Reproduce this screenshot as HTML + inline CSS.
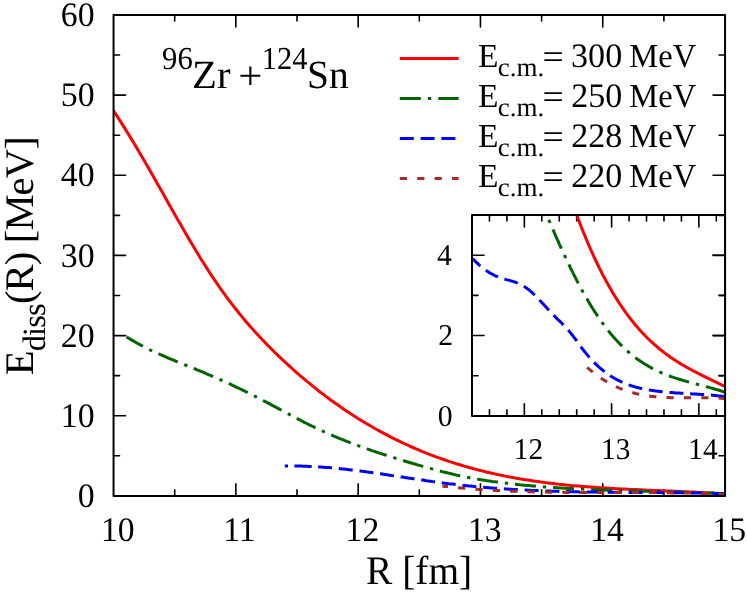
<!DOCTYPE html>
<html><head><meta charset="utf-8"><title>E_diss(R)</title>
<style>
html,body{margin:0;padding:0;background:#fff;}
svg{display:block;font-family:"Liberation Serif",serif;will-change:transform;}
text{fill:#000;text-rendering:geometricPrecision;}
</style></head><body>
<svg width="747" height="592" viewBox="0 0 747 592">
<defs>
<clipPath id="cm"><rect x="113.55" y="14.95" width="611.5" height="480.95"/></clipPath>
<clipPath id="ci"><rect x="472.0" y="215.0" width="253.04999999999995" height="200.89999999999998"/></clipPath>
</defs>
<g stroke="#000" stroke-width="1.6" fill="none" stroke-linecap="round">
<path d="M174.70,495.9 v-6.0 M174.70,14.95 v6.0"/>
<path d="M235.85,495.9 v-12.0 M235.85,14.95 v12.0"/>
<path d="M297.00,495.9 v-6.0 M297.00,14.95 v6.0"/>
<path d="M358.15,495.9 v-12.0 M358.15,14.95 v12.0"/>
<path d="M419.30,495.9 v-6.0 M419.30,14.95 v6.0"/>
<path d="M480.45,495.9 v-12.0 M480.45,14.95 v12.0"/>
<path d="M541.60,495.9 v-6.0 M541.60,14.95 v6.0"/>
<path d="M602.75,495.9 v-12.0 M602.75,14.95 v12.0"/>
<path d="M663.90,495.9 v-6.0 M663.90,14.95 v6.0"/>
<path d="M113.55,455.82 h6.0 M725.05,455.82 h-6.0"/>
<path d="M113.55,415.74 h12.0 M725.05,415.74 h-12.0"/>
<path d="M113.55,375.66 h6.0 M725.05,375.66 h-6.0"/>
<path d="M113.55,335.58 h12.0 M725.05,335.58 h-12.0"/>
<path d="M113.55,295.50 h6.0 M725.05,295.50 h-6.0"/>
<path d="M113.55,255.42 h12.0 M725.05,255.42 h-12.0"/>
<path d="M113.55,215.35 h6.0 M725.05,215.35 h-6.0"/>
<path d="M113.55,175.27 h12.0 M725.05,175.27 h-12.0"/>
<path d="M113.55,135.19 h6.0 M725.05,135.19 h-6.0"/>
<path d="M113.55,95.11 h12.0 M725.05,95.11 h-12.0"/>
<path d="M113.55,55.03 h6.0 M725.05,55.03 h-6.0"/>
</g>
<g>
<path d="M113.5,110.9 L116.1,114.7 L118.7,118.6 L121.2,122.6 L123.8,126.6 L126.3,130.7 L128.9,134.9 L131.5,139.1 L134.0,143.3 L136.6,147.6 L139.1,151.9 L141.7,156.3 L144.3,160.7 L146.8,165.1 L149.4,169.6 L151.9,174.1 L154.5,178.6 L157.0,183.1 L159.6,187.6 L162.2,192.1 L164.7,196.6 L167.3,201.2 L169.8,205.7 L172.4,210.2 L175.0,214.7 L177.5,219.2 L180.1,223.6 L182.6,228.1 L185.2,232.5 L187.7,236.9 L190.3,241.2 L192.9,245.5 L195.4,249.8 L198.0,254.0 L200.5,258.2 L203.1,262.3 L205.7,266.4 L208.2,270.4 L210.8,274.3 L213.3,278.1 L215.9,281.9 L218.5,285.7 L221.0,289.3 L223.6,292.9 L226.1,296.4 L228.7,299.8 L231.2,303.2 L233.8,306.5 L236.4,309.8 L238.9,313.0 L241.5,316.1 L244.0,319.2 L246.6,322.2 L249.2,325.2 L251.7,328.1 L254.3,330.9 L256.8,333.8 L259.4,336.5 L261.9,339.3 L264.5,341.9 L267.1,344.6 L269.6,347.2 L272.2,349.7 L274.7,352.3 L277.3,354.8 L279.9,357.2 L282.4,359.6 L285.0,362.0 L287.5,364.4 L290.1,366.7 L292.7,369.0 L295.2,371.3 L297.8,373.5 L300.3,375.8 L302.9,377.9 L305.4,380.1 L308.0,382.2 L310.6,384.3 L313.1,386.4 L315.7,388.4 L318.2,390.5 L320.8,392.5 L323.4,394.4 L325.9,396.4 L328.5,398.3 L331.0,400.2 L333.6,402.0 L336.1,403.8 L338.7,405.6 L341.3,407.4 L343.8,409.2 L346.4,410.9 L348.9,412.6 L351.5,414.3 L354.1,415.9 L356.6,417.6 L359.2,419.2 L361.7,420.7 L364.3,422.3 L366.8,423.8 L369.4,425.3 L372.0,426.8 L374.5,428.3 L377.1,429.7 L379.6,431.1 L382.2,432.5 L384.8,433.9 L387.3,435.2 L389.9,436.6 L392.4,437.9 L395.0,439.1 L397.6,440.4 L400.1,441.6 L402.7,442.9 L405.2,444.0 L407.8,445.2 L410.3,446.4 L412.9,447.5 L415.5,448.6 L418.0,449.7 L420.6,450.8 L423.1,451.8 L425.7,452.9 L428.3,453.9 L430.8,454.9 L433.4,455.8 L435.9,456.8 L438.5,457.7 L441.0,458.6 L443.6,459.5 L446.2,460.4 L448.7,461.3 L451.3,462.1 L453.8,462.9 L456.4,463.8 L459.0,464.5 L461.5,465.3 L464.1,466.1 L466.6,466.8 L469.2,467.5 L471.8,468.2 L474.3,468.9 L476.9,469.6 L479.4,470.3 L482.0,470.9 L484.5,471.5 L487.1,472.2 L489.7,472.8 L492.2,473.3 L494.8,473.9 L497.3,474.5 L499.9,475.0 L502.5,475.5 L505.0,476.1 L507.6,476.6 L510.1,477.1 L512.7,477.5 L515.2,478.0 L517.8,478.4 L520.4,478.9 L522.9,479.3 L525.5,479.7 L528.0,480.1 L530.6,480.5 L533.2,480.9 L535.7,481.3 L538.3,481.6 L540.8,482.0 L543.4,482.3 L545.9,482.7 L548.5,483.0 L551.1,483.3 L553.6,483.6 L556.2,483.9 L558.7,484.2 L561.3,484.4 L563.9,484.7 L566.4,485.0 L569.0,485.2 L571.5,485.5 L574.1,485.7 L576.7,485.9 L579.2,486.1 L581.8,486.4 L584.3,486.6 L586.9,486.8 L589.4,487.0 L592.0,487.1 L594.6,487.3 L597.1,487.5 L599.7,487.7 L602.2,487.8 L604.8,488.0 L607.4,488.1 L609.9,488.3 L612.5,488.4 L615.0,488.6 L617.6,488.7 L620.1,488.9 L622.7,489.0 L625.3,489.1 L627.8,489.2 L630.4,489.4 L632.9,489.5 L635.5,489.6 L638.1,489.7 L640.6,489.8 L643.2,489.9 L645.7,490.1 L648.3,490.2 L650.9,490.3 L653.4,490.4 L656.0,490.5 L658.5,490.6 L661.1,490.7 L663.6,490.8 L666.2,490.9 L668.8,491.0 L671.3,491.1 L673.9,491.2 L676.4,491.3 L679.0,491.4 L681.6,491.6 L684.1,491.7 L686.7,491.8 L689.2,491.9 L691.8,492.0 L694.3,492.1 L696.9,492.3 L699.5,492.4 L702.0,492.5 L704.6,492.7 L707.1,492.8 L709.7,493.0 L712.3,493.1 L714.8,493.3 L717.4,493.4 L719.9,493.6 L722.5,493.7 L725.0,493.9" stroke="#ff0000" stroke-width="3.0" fill="none" clip-path="url(#cm)"/>
<path d="M126.5,336.8 L129.0,338.4 L131.5,339.9 L134.0,341.4 L136.5,342.8 L139.0,344.2 L141.5,345.5 L144.0,346.8 L146.5,348.1 L149.0,349.4 L151.5,350.6 L154.0,351.8 L156.6,352.9 L159.1,354.0 L161.6,355.2 L164.1,356.2 L166.6,357.3 L169.1,358.4 L171.6,359.4 L174.1,360.4 L176.6,361.5 L179.1,362.5 L181.6,363.5 L184.1,364.5 L186.6,365.5 L189.1,366.5 L191.6,367.5 L194.1,368.5 L196.6,369.6 L199.1,370.6 L201.6,371.6 L204.1,372.7 L206.6,373.8 L209.1,374.8 L211.6,375.9 L214.2,377.0 L216.7,378.1 L219.2,379.2 L221.7,380.3 L224.2,381.5 L226.7,382.6 L229.2,383.7 L231.7,384.9 L234.2,386.1 L236.7,387.3 L239.2,388.5 L241.7,389.7 L244.2,390.9 L246.7,392.1 L249.2,393.4 L251.7,394.6 L254.2,395.9 L256.7,397.2 L259.2,398.5 L261.7,399.8 L264.2,401.1 L266.7,402.4 L269.3,403.7 L271.8,405.1 L274.3,406.4 L276.8,407.7 L279.3,409.1 L281.8,410.4 L284.3,411.8 L286.8,413.1 L289.3,414.4 L291.8,415.8 L294.3,417.1 L296.8,418.4 L299.3,419.7 L301.8,421.0 L304.3,422.3 L306.8,423.5 L309.3,424.8 L311.8,426.0 L314.3,427.2 L316.8,428.4 L319.3,429.6 L321.8,430.7 L324.3,431.9 L326.9,433.0 L329.4,434.1 L331.9,435.2 L334.4,436.3 L336.9,437.3 L339.4,438.4 L341.9,439.4 L344.4,440.4 L346.9,441.4 L349.4,442.3 L351.9,443.3 L354.4,444.3 L356.9,445.2 L359.4,446.1 L361.9,447.0 L364.4,447.9 L366.9,448.8 L369.4,449.7 L371.9,450.6 L374.4,451.4 L376.9,452.3 L379.4,453.1 L381.9,453.9 L384.5,454.7 L387.0,455.5 L389.5,456.3 L392.0,457.1 L394.5,457.9 L397.0,458.7 L399.5,459.5 L402.0,460.2 L404.5,461.0 L407.0,461.7 L409.5,462.5 L412.0,463.2 L414.5,463.9 L417.0,464.7 L419.5,465.4 L422.0,466.1 L424.5,466.8 L427.0,467.5 L429.5,468.2 L432.0,468.9 L434.5,469.6 L437.0,470.3 L439.5,470.9 L442.1,471.6 L444.6,472.2 L447.1,472.8 L449.6,473.4 L452.1,474.0 L454.6,474.6 L457.1,475.2 L459.6,475.7 L462.1,476.2 L464.6,476.7 L467.1,477.2 L469.6,477.7 L472.1,478.2 L474.6,478.6 L477.1,479.1 L479.6,479.5 L482.1,479.9 L484.6,480.3 L487.1,480.7 L489.6,481.0 L492.1,481.4 L494.6,481.7 L497.2,482.1 L499.7,482.4 L502.2,482.7 L504.7,483.0 L507.2,483.3 L509.7,483.6 L512.2,483.9 L514.7,484.2 L517.2,484.4 L519.7,484.7 L522.2,484.9 L524.7,485.2 L527.2,485.4 L529.7,485.6 L532.2,485.9 L534.7,486.1 L537.2,486.3 L539.7,486.5 L542.2,486.7 L544.7,486.9 L547.2,487.1 L549.7,487.2 L552.2,487.4 L554.8,487.6 L557.3,487.8 L559.8,487.9 L562.3,488.1 L564.8,488.2 L567.3,488.4 L569.8,488.5 L572.3,488.6 L574.8,488.8 L577.3,488.9 L579.8,489.0 L582.3,489.1 L584.8,489.3 L587.3,489.4 L589.8,489.5 L592.3,489.6 L594.8,489.7 L597.3,489.8 L599.8,489.9 L602.3,490.0 L604.8,490.1 L607.3,490.2 L609.8,490.2 L612.4,490.3 L614.9,490.4 L617.4,490.5 L619.9,490.6 L622.4,490.6 L624.9,490.7 L627.4,490.8 L629.9,490.8 L632.4,490.9 L634.9,491.0 L637.4,491.0 L639.9,491.1 L642.4,491.2 L644.9,491.2 L647.4,491.3 L649.9,491.4 L652.4,491.4 L654.9,491.5 L657.4,491.5 L659.9,491.6 L662.4,491.7 L664.9,491.7 L667.4,491.8 L670.0,491.9 L672.5,491.9 L675.0,492.0 L677.5,492.0 L680.0,492.1 L682.5,492.2 L685.0,492.2 L687.5,492.3 L690.0,492.4 L692.5,492.5 L695.0,492.5 L697.5,492.6 L700.0,492.7 L702.5,492.8 L705.0,492.9 L707.5,493.0 L710.0,493.0 L712.5,493.1 L715.0,493.2 L717.5,493.3 L720.0,493.4 L722.5,493.5 L725.0,493.6" stroke="#006400" stroke-width="3.0" fill="none" stroke-dasharray="21 7 3.3 6.9" stroke-dashoffset="2" clip-path="url(#cm)"/>
<path d="M284.8,466.1 L286.6,466.0 L288.5,466.0 L290.3,466.0 L292.2,466.0 L294.0,466.0 L295.9,466.0 L297.7,466.0 L299.5,466.1 L301.4,466.1 L303.2,466.2 L305.1,466.2 L306.9,466.3 L308.7,466.4 L310.6,466.4 L312.4,466.5 L314.3,466.6 L316.1,466.7 L318.0,466.8 L319.8,467.0 L321.6,467.1 L323.5,467.2 L325.3,467.4 L327.2,467.5 L329.0,467.6 L330.9,467.8 L332.7,468.0 L334.5,468.1 L336.4,468.3 L338.2,468.5 L340.1,468.7 L341.9,468.9 L343.7,469.1 L345.6,469.3 L347.4,469.5 L349.3,469.7 L351.1,469.9 L353.0,470.1 L354.8,470.4 L356.6,470.6 L358.5,470.8 L360.3,471.0 L362.2,471.3 L364.0,471.5 L365.9,471.8 L367.7,472.0 L369.5,472.3 L371.4,472.5 L373.2,472.8 L375.1,473.0 L376.9,473.3 L378.7,473.6 L380.6,473.8 L382.4,474.1 L384.3,474.4 L386.1,474.6 L388.0,474.9 L389.8,475.2 L391.6,475.5 L393.5,475.7 L395.3,476.0 L397.2,476.3 L399.0,476.6 L400.8,476.9 L402.7,477.1 L404.5,477.4 L406.4,477.7 L408.2,478.0 L410.1,478.2 L411.9,478.5 L413.7,478.8 L415.6,479.1 L417.4,479.3 L419.3,479.6 L421.1,479.9 L423.0,480.1 L424.8,480.4 L426.6,480.7 L428.5,480.9 L430.3,481.2 L432.2,481.5 L434.0,481.7 L435.8,482.0 L437.7,482.2 L439.5,482.5 L441.4,482.7 L443.2,483.0 L445.1,483.2 L446.9,483.4 L448.7,483.7 L450.6,483.9 L452.4,484.1 L454.3,484.3 L456.1,484.5 L458.0,484.8 L459.8,485.0 L461.6,485.2 L463.5,485.4 L465.3,485.6 L467.2,485.7 L469.0,485.9 L470.8,486.1 L472.7,486.3 L474.5,486.5 L476.4,486.7 L478.2,486.8 L480.1,487.0 L481.9,487.1 L483.7,487.3 L485.6,487.5 L487.4,487.6 L489.3,487.8 L491.1,487.9 L493.0,488.1 L494.8,488.2 L496.6,488.3 L498.5,488.5 L500.3,488.6 L502.2,488.7 L504.0,488.8 L505.8,489.0 L507.7,489.1 L509.5,489.2 L511.4,489.3 L513.2,489.4 L515.1,489.5 L516.9,489.6 L518.7,489.7 L520.6,489.8 L522.4,489.9 L524.3,490.0 L526.1,490.1 L528.0,490.2 L529.8,490.3 L531.6,490.4 L533.5,490.5 L535.3,490.5 L537.2,490.6 L539.0,490.7 L540.8,490.8 L542.7,490.8 L544.5,490.9 L546.4,491.0 L548.2,491.0 L550.1,491.1 L551.9,491.2 L553.7,491.2 L555.6,491.3 L557.4,491.3 L559.3,491.4 L561.1,491.4 L562.9,491.5 L564.8,491.5 L566.6,491.6 L568.5,491.6 L570.3,491.7 L572.2,491.7 L574.0,491.7 L575.8,491.8 L577.7,491.8 L579.5,491.9 L581.4,491.9 L583.2,491.9 L585.1,492.0 L586.9,492.0 L588.7,492.0 L590.6,492.0 L592.4,492.1 L594.3,492.1 L596.1,492.1 L597.9,492.1 L599.8,492.2 L601.6,492.2 L603.5,492.2 L605.3,492.2 L607.2,492.2 L609.0,492.3 L610.8,492.3 L612.7,492.3 L614.5,492.3 L616.4,492.3 L618.2,492.3 L620.1,492.4 L621.9,492.4 L623.7,492.4 L625.6,492.4 L627.4,492.4 L629.3,492.4 L631.1,492.4 L632.9,492.5 L634.8,492.5 L636.6,492.5 L638.5,492.5 L640.3,492.5 L642.2,492.5 L644.0,492.5 L645.8,492.5 L647.7,492.6 L649.5,492.6 L651.4,492.6 L653.2,492.6 L655.1,492.6 L656.9,492.6 L658.7,492.6 L660.6,492.6 L662.4,492.7 L664.3,492.7 L666.1,492.7 L667.9,492.7 L669.8,492.7 L671.6,492.7 L673.5,492.8 L675.3,492.8 L677.2,492.8 L679.0,492.8 L680.8,492.8 L682.7,492.8 L684.5,492.9 L686.4,492.9 L688.2,492.9 L690.1,492.9 L691.9,493.0 L693.7,493.0 L695.6,493.0 L697.4,493.0 L699.3,493.1 L701.1,493.1 L702.9,493.1 L704.8,493.2 L706.6,493.2 L708.5,493.2 L710.3,493.3 L712.2,493.3 L714.0,493.4 L715.8,493.4 L717.7,493.4 L719.5,493.5 L721.4,493.5 L723.2,493.6 L725.0,493.6" stroke="#0000ff" stroke-width="3.0" fill="none" stroke-dasharray="3.2 6.4 17.3 6.4 14 6.8 14 6.8 14 6.8 14 6.8 14 6.8 14 6.8 14 6.8 14 6.8 14 6.8 14 6.8 14 6.8 14 6.8 14 6.8 14 6.8 14 6.8 14 6.8 14 6.8 14 6.8 14 6.8 14 6.8 14 6.8 14 6.8 14 6.8 14 6.8 14 6.8 14 6.8 14 6.8 14 6.8 14 6.8 14 6.8 " stroke-dashoffset="0" clip-path="url(#cm)"/>
<path d="M442.4,486.1 L443.6,486.2 L444.8,486.4 L445.9,486.5 L447.1,486.6 L448.3,486.7 L449.5,486.9 L450.7,487.0 L451.9,487.1 L453.0,487.2 L454.2,487.4 L455.4,487.5 L456.6,487.6 L457.8,487.7 L459.0,487.8 L460.1,487.9 L461.3,488.0 L462.5,488.1 L463.7,488.2 L464.9,488.3 L466.1,488.4 L467.2,488.5 L468.4,488.6 L469.6,488.7 L470.8,488.8 L472.0,488.9 L473.1,489.0 L474.3,489.1 L475.5,489.2 L476.7,489.3 L477.9,489.3 L479.1,489.4 L480.2,489.5 L481.4,489.6 L482.6,489.7 L483.8,489.7 L485.0,489.8 L486.2,489.9 L487.3,490.0 L488.5,490.0 L489.7,490.1 L490.9,490.2 L492.1,490.3 L493.3,490.3 L494.4,490.4 L495.6,490.4 L496.8,490.5 L498.0,490.6 L499.2,490.6 L500.3,490.7 L501.5,490.7 L502.7,490.8 L503.9,490.9 L505.1,490.9 L506.3,491.0 L507.4,491.0 L508.6,491.1 L509.8,491.1 L511.0,491.2 L512.2,491.2 L513.4,491.3 L514.5,491.3 L515.7,491.3 L516.9,491.4 L518.1,491.4 L519.3,491.5 L520.5,491.5 L521.6,491.5 L522.8,491.6 L524.0,491.6 L525.2,491.6 L526.4,491.7 L527.5,491.7 L528.7,491.7 L529.9,491.8 L531.1,491.8 L532.3,491.8 L533.5,491.9 L534.6,491.9 L535.8,491.9 L537.0,491.9 L538.2,492.0 L539.4,492.0 L540.6,492.0 L541.7,492.0 L542.9,492.1 L544.1,492.1 L545.3,492.1 L546.5,492.1 L547.7,492.1 L548.8,492.2 L550.0,492.2 L551.2,492.2 L552.4,492.2 L553.6,492.2 L554.8,492.2 L555.9,492.3 L557.1,492.3 L558.3,492.3 L559.5,492.3 L560.7,492.3 L561.8,492.3 L563.0,492.3 L564.2,492.3 L565.4,492.4 L566.6,492.4 L567.8,492.4 L568.9,492.4 L570.1,492.4 L571.3,492.4 L572.5,492.4 L573.7,492.4 L574.9,492.4 L576.0,492.4 L577.2,492.4 L578.4,492.4 L579.6,492.4 L580.8,492.4 L582.0,492.4 L583.1,492.4 L584.3,492.4 L585.5,492.5 L586.7,492.5 L587.9,492.5 L589.0,492.5 L590.2,492.5 L591.4,492.5 L592.6,492.5 L593.8,492.5 L595.0,492.5 L596.1,492.5 L597.3,492.5 L598.5,492.5 L599.7,492.5 L600.9,492.5 L602.1,492.5 L603.2,492.5 L604.4,492.5 L605.6,492.5 L606.8,492.5 L608.0,492.5 L609.2,492.5 L610.3,492.5 L611.5,492.5 L612.7,492.5 L613.9,492.5 L615.1,492.5 L616.2,492.5 L617.4,492.5 L618.6,492.5 L619.8,492.5 L621.0,492.5 L622.2,492.5 L623.3,492.5 L624.5,492.5 L625.7,492.5 L626.9,492.5 L628.1,492.5 L629.3,492.5 L630.4,492.5 L631.6,492.5 L632.8,492.5 L634.0,492.5 L635.2,492.5 L636.4,492.5 L637.5,492.5 L638.7,492.5 L639.9,492.5 L641.1,492.5 L642.3,492.5 L643.4,492.5 L644.6,492.5 L645.8,492.5 L647.0,492.5 L648.2,492.5 L649.4,492.5 L650.5,492.5 L651.7,492.5 L652.9,492.5 L654.1,492.5 L655.3,492.5 L656.5,492.6 L657.6,492.6 L658.8,492.6 L660.0,492.6 L661.2,492.6 L662.4,492.6 L663.6,492.6 L664.7,492.6 L665.9,492.6 L667.1,492.7 L668.3,492.7 L669.5,492.7 L670.6,492.7 L671.8,492.7 L673.0,492.7 L674.2,492.7 L675.4,492.8 L676.6,492.8 L677.7,492.8 L678.9,492.8 L680.1,492.8 L681.3,492.9 L682.5,492.9 L683.7,492.9 L684.8,492.9 L686.0,493.0 L687.2,493.0 L688.4,493.0 L689.6,493.0 L690.8,493.1 L691.9,493.1 L693.1,493.1 L694.3,493.2 L695.5,493.2 L696.7,493.2 L697.8,493.3 L699.0,493.3 L700.2,493.3 L701.4,493.4 L702.6,493.4 L703.8,493.4 L704.9,493.5 L706.1,493.5 L707.3,493.6 L708.5,493.6 L709.7,493.7 L710.9,493.7 L712.0,493.7 L713.2,493.8 L714.4,493.8 L715.6,493.9 L716.8,493.9 L718.0,494.0 L719.1,494.0 L720.3,494.1 L721.5,494.2 L722.7,494.2 L723.9,494.3 L725.0,494.3" stroke="#a52a2a" stroke-width="3.0" fill="none" stroke-dasharray="7.2 10.2" stroke-dashoffset="1.6" clip-path="url(#cm)"/>
</g>
<rect x="113.55" y="14.95" width="611.5" height="480.95" fill="none" stroke="#000" stroke-width="2.0" stroke-linejoin="round"/>
<g stroke="#000" stroke-width="1.6" fill="none" stroke-linecap="round">
<path d="M489.45,415.9 v-6.0 M489.45,215.0 v6.0"/>
<path d="M506.90,415.9 v-6.0 M506.90,215.0 v6.0"/>
<path d="M524.36,415.9 v-12.0 M524.36,215.0 v12.0"/>
<path d="M541.81,415.9 v-6.0 M541.81,215.0 v6.0"/>
<path d="M559.26,415.9 v-6.0 M559.26,215.0 v6.0"/>
<path d="M576.71,415.9 v-6.0 M576.71,215.0 v6.0"/>
<path d="M594.16,415.9 v-6.0 M594.16,215.0 v6.0"/>
<path d="M611.61,415.9 v-12.0 M611.61,215.0 v12.0"/>
<path d="M629.07,415.9 v-6.0 M629.07,215.0 v6.0"/>
<path d="M646.52,415.9 v-6.0 M646.52,215.0 v6.0"/>
<path d="M663.97,415.9 v-6.0 M663.97,215.0 v6.0"/>
<path d="M681.42,415.9 v-6.0 M681.42,215.0 v6.0"/>
<path d="M698.87,415.9 v-12.0 M698.87,215.0 v12.0"/>
<path d="M716.32,415.9 v-6.0 M716.32,215.0 v6.0"/>
<path d="M472.0,375.72 h6.0 M725.05,375.72 h-6.0"/>
<path d="M472.0,335.54 h12.0 M725.05,335.54 h-12.0"/>
<path d="M472.0,295.36 h6.0 M725.05,295.36 h-6.0"/>
<path d="M472.0,255.18 h12.0 M725.05,255.18 h-12.0"/>
</g>
<g>
<path d="M577.0,215.7 L577.6,217.3 L578.2,219.0 L578.9,220.6 L579.5,222.2 L580.1,223.8 L580.7,225.4 L581.3,227.0 L582.0,228.6 L582.6,230.1 L583.2,231.7 L583.8,233.2 L584.4,234.7 L585.1,236.2 L585.7,237.7 L586.3,239.2 L586.9,240.7 L587.5,242.2 L588.2,243.6 L588.8,245.1 L589.4,246.5 L590.0,247.9 L590.6,249.3 L591.2,250.7 L591.9,252.1 L592.5,253.5 L593.1,254.8 L593.7,256.2 L594.3,257.5 L595.0,258.8 L595.6,260.2 L596.2,261.5 L596.8,262.8 L597.4,264.1 L598.1,265.3 L598.7,266.6 L599.3,267.8 L599.9,269.1 L600.5,270.3 L601.2,271.5 L601.8,272.8 L602.4,274.0 L603.0,275.2 L603.6,276.3 L604.3,277.5 L604.9,278.7 L605.5,279.8 L606.1,281.0 L606.7,282.1 L607.4,283.2 L608.0,284.3 L608.6,285.4 L609.2,286.5 L609.8,287.6 L610.5,288.7 L611.1,289.8 L611.7,290.8 L612.3,291.9 L612.9,292.9 L613.5,293.9 L614.2,295.0 L614.8,296.0 L615.4,297.0 L616.0,298.0 L616.6,299.0 L617.3,299.9 L617.9,300.9 L618.5,301.9 L619.1,302.8 L619.7,303.8 L620.4,304.7 L621.0,305.6 L621.6,306.5 L622.2,307.4 L622.8,308.3 L623.5,309.2 L624.1,310.1 L624.7,311.0 L625.3,311.9 L625.9,312.7 L626.6,313.6 L627.2,314.4 L627.8,315.2 L628.4,316.1 L629.0,316.9 L629.7,317.7 L630.3,318.5 L630.9,319.3 L631.5,320.1 L632.1,320.9 L632.8,321.6 L633.4,322.4 L634.0,323.2 L634.6,323.9 L635.2,324.7 L635.8,325.4 L636.5,326.1 L637.1,326.9 L637.7,327.6 L638.3,328.3 L638.9,329.0 L639.6,329.7 L640.2,330.4 L640.8,331.1 L641.4,331.7 L642.0,332.4 L642.7,333.1 L643.3,333.7 L643.9,334.4 L644.5,335.0 L645.1,335.7 L645.8,336.3 L646.4,336.9 L647.0,337.6 L647.6,338.2 L648.2,338.8 L648.9,339.4 L649.5,340.0 L650.1,340.6 L650.7,341.2 L651.3,341.7 L652.0,342.3 L652.6,342.9 L653.2,343.4 L653.8,344.0 L654.4,344.5 L655.1,345.1 L655.7,345.6 L656.3,346.2 L656.9,346.7 L657.5,347.2 L658.1,347.8 L658.8,348.3 L659.4,348.8 L660.0,349.3 L660.6,349.8 L661.2,350.3 L661.9,350.8 L662.5,351.3 L663.1,351.7 L663.7,352.2 L664.3,352.7 L665.0,353.2 L665.6,353.6 L666.2,354.1 L666.8,354.5 L667.4,355.0 L668.1,355.4 L668.7,355.9 L669.3,356.3 L669.9,356.8 L670.5,357.2 L671.2,357.6 L671.8,358.0 L672.4,358.5 L673.0,358.9 L673.6,359.3 L674.3,359.7 L674.9,360.1 L675.5,360.5 L676.1,360.9 L676.7,361.3 L677.4,361.7 L678.0,362.1 L678.6,362.5 L679.2,362.9 L679.8,363.2 L680.4,363.6 L681.1,364.0 L681.7,364.4 L682.3,364.7 L682.9,365.1 L683.5,365.5 L684.2,365.8 L684.8,366.2 L685.4,366.5 L686.0,366.9 L686.6,367.2 L687.3,367.6 L687.9,367.9 L688.5,368.3 L689.1,368.6 L689.7,368.9 L690.4,369.3 L691.0,369.6 L691.6,369.9 L692.2,370.3 L692.8,370.6 L693.5,370.9 L694.1,371.3 L694.7,371.6 L695.3,371.9 L695.9,372.2 L696.6,372.5 L697.2,372.9 L697.8,373.2 L698.4,373.5 L699.0,373.8 L699.7,374.1 L700.3,374.4 L700.9,374.7 L701.5,375.0 L702.1,375.3 L702.7,375.7 L703.4,376.0 L704.0,376.3 L704.6,376.6 L705.2,376.9 L705.8,377.2 L706.5,377.5 L707.1,377.8 L707.7,378.1 L708.3,378.4 L708.9,378.7 L709.6,379.0 L710.2,379.3 L710.8,379.6 L711.4,379.9 L712.0,380.2 L712.7,380.5 L713.3,380.8 L713.9,381.1 L714.5,381.4 L715.1,381.7 L715.8,382.0 L716.4,382.3 L717.0,382.6 L717.6,382.9 L718.2,383.2 L718.9,383.5 L719.5,383.8 L720.1,384.1 L720.7,384.4 L721.3,384.7 L722.0,385.0 L722.6,385.3 L723.2,385.6 L723.8,385.9 L724.4,386.2 L725.0,386.5" stroke="#ff0000" stroke-width="3.0" fill="none" clip-path="url(#ci)"/>
<path d="M546.4,214.3 L547.1,216.0 L547.9,217.8 L548.6,219.6 L549.4,221.3 L550.1,223.1 L550.9,224.8 L551.6,226.6 L552.4,228.3 L553.1,230.0 L553.9,231.7 L554.6,233.4 L555.4,235.2 L556.1,236.8 L556.9,238.5 L557.6,240.2 L558.4,241.9 L559.1,243.6 L559.9,245.2 L560.6,246.9 L561.3,248.5 L562.1,250.1 L562.8,251.8 L563.6,253.4 L564.3,255.0 L565.1,256.6 L565.8,258.2 L566.6,259.8 L567.3,261.4 L568.1,262.9 L568.8,264.5 L569.6,266.0 L570.3,267.6 L571.1,269.1 L571.8,270.6 L572.6,272.1 L573.3,273.6 L574.1,275.1 L574.8,276.6 L575.6,278.0 L576.3,279.5 L577.0,280.9 L577.8,282.3 L578.5,283.8 L579.3,285.2 L580.0,286.6 L580.8,287.9 L581.5,289.3 L582.3,290.7 L583.0,292.0 L583.8,293.4 L584.5,294.7 L585.3,296.0 L586.0,297.3 L586.8,298.6 L587.5,299.9 L588.3,301.2 L589.0,302.4 L589.8,303.7 L590.5,304.9 L591.2,306.1 L592.0,307.3 L592.7,308.5 L593.5,309.7 L594.2,310.9 L595.0,312.0 L595.7,313.2 L596.5,314.3 L597.2,315.5 L598.0,316.6 L598.7,317.7 L599.5,318.8 L600.2,319.8 L601.0,320.9 L601.7,322.0 L602.5,323.0 L603.2,324.0 L604.0,325.1 L604.7,326.1 L605.5,327.1 L606.2,328.0 L606.9,329.0 L607.7,330.0 L608.4,330.9 L609.2,331.8 L609.9,332.8 L610.7,333.7 L611.4,334.6 L612.2,335.5 L612.9,336.3 L613.7,337.2 L614.4,338.0 L615.2,338.9 L615.9,339.7 L616.7,340.5 L617.4,341.3 L618.2,342.1 L618.9,342.9 L619.7,343.7 L620.4,344.4 L621.1,345.2 L621.9,345.9 L622.6,346.7 L623.4,347.4 L624.1,348.1 L624.9,348.8 L625.6,349.5 L626.4,350.2 L627.1,350.8 L627.9,351.5 L628.6,352.1 L629.4,352.8 L630.1,353.4 L630.9,354.0 L631.6,354.6 L632.4,355.2 L633.1,355.8 L633.9,356.4 L634.6,357.0 L635.4,357.6 L636.1,358.1 L636.8,358.7 L637.6,359.2 L638.3,359.8 L639.1,360.3 L639.8,360.8 L640.6,361.3 L641.3,361.8 L642.1,362.3 L642.8,362.8 L643.6,363.3 L644.3,363.8 L645.1,364.2 L645.8,364.7 L646.6,365.1 L647.3,365.6 L648.1,366.0 L648.8,366.4 L649.6,366.9 L650.3,367.3 L651.0,367.7 L651.8,368.1 L652.5,368.5 L653.3,368.9 L654.0,369.2 L654.8,369.6 L655.5,370.0 L656.3,370.4 L657.0,370.7 L657.8,371.1 L658.5,371.4 L659.3,371.8 L660.0,372.1 L660.8,372.4 L661.5,372.8 L662.3,373.1 L663.0,373.4 L663.8,373.7 L664.5,374.0 L665.3,374.3 L666.0,374.6 L666.7,374.9 L667.5,375.2 L668.2,375.5 L669.0,375.8 L669.7,376.0 L670.5,376.3 L671.2,376.6 L672.0,376.9 L672.7,377.1 L673.5,377.4 L674.2,377.6 L675.0,377.9 L675.7,378.1 L676.5,378.4 L677.2,378.6 L678.0,378.8 L678.7,379.1 L679.5,379.3 L680.2,379.5 L680.9,379.8 L681.7,380.0 L682.4,380.2 L683.2,380.4 L683.9,380.7 L684.7,380.9 L685.4,381.1 L686.2,381.3 L686.9,381.5 L687.7,381.7 L688.4,381.9 L689.2,382.1 L689.9,382.3 L690.7,382.5 L691.4,382.7 L692.2,382.9 L692.9,383.1 L693.7,383.3 L694.4,383.5 L695.2,383.7 L695.9,383.9 L696.6,384.1 L697.4,384.3 L698.1,384.5 L698.9,384.7 L699.6,384.9 L700.4,385.1 L701.1,385.3 L701.9,385.5 L702.6,385.7 L703.4,385.9 L704.1,386.1 L704.9,386.3 L705.6,386.5 L706.4,386.7 L707.1,386.9 L707.9,387.1 L708.6,387.3 L709.4,387.5 L710.1,387.7 L710.8,387.9 L711.6,388.1 L712.3,388.3 L713.1,388.5 L713.8,388.7 L714.6,389.0 L715.3,389.2 L716.1,389.4 L716.8,389.6 L717.6,389.8 L718.3,390.1 L719.1,390.3 L719.8,390.5 L720.6,390.8 L721.3,391.0 L722.1,391.2 L722.8,391.5 L723.6,391.7 L724.3,392.0 L725.0,392.2" stroke="#006400" stroke-width="3.0" fill="none" stroke-dasharray="3.5 7 21 7" stroke-dashoffset="-6" clip-path="url(#ci)"/>
<path d="M472.5,258.4 L473.6,259.6 L474.6,260.6 L475.7,261.7 L476.7,262.7 L477.8,263.7 L478.8,264.7 L479.9,265.6 L481.0,266.5 L482.0,267.4 L483.1,268.2 L484.1,269.0 L485.2,269.8 L486.2,270.5 L487.3,271.2 L488.4,271.9 L489.4,272.6 L490.5,273.2 L491.5,273.8 L492.6,274.4 L493.6,274.9 L494.7,275.5 L495.7,276.0 L496.8,276.4 L497.9,276.9 L498.9,277.3 L500.0,277.6 L501.0,278.0 L502.1,278.3 L503.1,278.7 L504.2,279.0 L505.3,279.3 L506.3,279.6 L507.4,279.9 L508.4,280.1 L509.5,280.4 L510.5,280.7 L511.6,281.0 L512.7,281.3 L513.7,281.7 L514.8,282.0 L515.8,282.4 L516.9,282.8 L517.9,283.2 L519.0,283.7 L520.1,284.1 L521.1,284.7 L522.2,285.2 L523.2,285.8 L524.3,286.5 L525.3,287.2 L526.4,287.9 L527.4,288.7 L528.5,289.5 L529.6,290.4 L530.6,291.3 L531.7,292.2 L532.7,293.2 L533.8,294.2 L534.8,295.2 L535.9,296.3 L537.0,297.4 L538.0,298.5 L539.1,299.6 L540.1,300.7 L541.2,301.8 L542.2,303.0 L543.3,304.1 L544.4,305.3 L545.4,306.4 L546.5,307.6 L547.5,308.8 L548.6,309.9 L549.6,311.0 L550.7,312.2 L551.8,313.3 L552.8,314.4 L553.9,315.5 L554.9,316.5 L556.0,317.6 L557.0,318.6 L558.1,319.7 L559.1,320.7 L560.2,321.7 L561.3,322.8 L562.3,323.8 L563.4,324.9 L564.4,326.0 L565.5,327.1 L566.5,328.3 L567.6,329.4 L568.7,330.6 L569.7,331.9 L570.8,333.2 L571.8,334.5 L572.9,335.8 L573.9,337.2 L575.0,338.6 L576.1,340.0 L577.1,341.5 L578.2,342.9 L579.2,344.4 L580.3,345.9 L581.3,347.3 L582.4,348.8 L583.5,350.1 L584.5,351.5 L585.6,352.8 L586.6,354.1 L587.7,355.4 L588.7,356.6 L589.8,357.8 L590.8,359.0 L591.9,360.1 L593.0,361.3 L594.0,362.3 L595.1,363.4 L596.1,364.4 L597.2,365.4 L598.2,366.4 L599.3,367.4 L600.4,368.3 L601.4,369.2 L602.5,370.0 L603.5,370.9 L604.6,371.7 L605.6,372.5 L606.7,373.3 L607.8,374.0 L608.8,374.8 L609.9,375.5 L610.9,376.2 L612.0,376.8 L613.0,377.5 L614.1,378.1 L615.2,378.7 L616.2,379.3 L617.3,379.9 L618.3,380.4 L619.4,380.9 L620.4,381.4 L621.5,381.9 L622.6,382.4 L623.6,382.9 L624.7,383.3 L625.7,383.7 L626.8,384.1 L627.8,384.5 L628.9,384.9 L629.9,385.3 L631.0,385.6 L632.1,386.0 L633.1,386.3 L634.2,386.6 L635.2,386.9 L636.3,387.2 L637.3,387.5 L638.4,387.7 L639.5,388.0 L640.5,388.2 L641.6,388.5 L642.6,388.7 L643.7,388.9 L644.7,389.1 L645.8,389.3 L646.9,389.5 L647.9,389.7 L649.0,389.9 L650.0,390.1 L651.1,390.3 L652.1,390.4 L653.2,390.6 L654.3,390.7 L655.3,390.9 L656.4,391.0 L657.4,391.2 L658.5,391.3 L659.5,391.4 L660.6,391.5 L661.6,391.7 L662.7,391.8 L663.8,391.9 L664.8,392.0 L665.9,392.1 L666.9,392.2 L668.0,392.3 L669.0,392.4 L670.1,392.5 L671.2,392.5 L672.2,392.6 L673.3,392.7 L674.3,392.8 L675.4,392.9 L676.4,392.9 L677.5,393.0 L678.6,393.1 L679.6,393.1 L680.7,393.2 L681.7,393.3 L682.8,393.3 L683.8,393.4 L684.9,393.4 L686.0,393.5 L687.0,393.6 L688.1,393.6 L689.1,393.7 L690.2,393.7 L691.2,393.8 L692.3,393.9 L693.3,393.9 L694.4,394.0 L695.5,394.0 L696.5,394.1 L697.6,394.2 L698.6,394.2 L699.7,394.3 L700.7,394.4 L701.8,394.4 L702.9,394.5 L703.9,394.6 L705.0,394.6 L706.0,394.7 L707.1,394.8 L708.1,394.9 L709.2,395.0 L710.3,395.1 L711.3,395.1 L712.4,395.2 L713.4,395.3 L714.5,395.4 L715.5,395.5 L716.6,395.7 L717.7,395.8 L718.7,395.9 L719.8,396.0 L720.8,396.1 L721.9,396.3 L722.9,396.4 L724.0,396.5 L725.0,396.7" stroke="#0000ff" stroke-width="3.0" fill="none" stroke-dasharray="14 6.8" stroke-dashoffset="3" clip-path="url(#ci)"/>
<path d="M587.1,367.2 L587.7,367.8 L588.3,368.3 L588.8,368.8 L589.4,369.3 L590.0,369.8 L590.6,370.3 L591.1,370.7 L591.7,371.2 L592.3,371.7 L592.9,372.2 L593.4,372.6 L594.0,373.1 L594.6,373.5 L595.2,374.0 L595.8,374.4 L596.3,374.8 L596.9,375.3 L597.5,375.7 L598.1,376.1 L598.6,376.5 L599.2,376.9 L599.8,377.3 L600.4,377.7 L601.0,378.1 L601.5,378.5 L602.1,378.9 L602.7,379.3 L603.3,379.6 L603.8,380.0 L604.4,380.4 L605.0,380.7 L605.6,381.1 L606.1,381.4 L606.7,381.7 L607.3,382.1 L607.9,382.4 L608.5,382.7 L609.0,383.1 L609.6,383.4 L610.2,383.7 L610.8,384.0 L611.3,384.3 L611.9,384.6 L612.5,384.9 L613.1,385.2 L613.7,385.5 L614.2,385.8 L614.8,386.1 L615.4,386.3 L616.0,386.6 L616.5,386.9 L617.1,387.1 L617.7,387.4 L618.3,387.6 L618.8,387.9 L619.4,388.1 L620.0,388.4 L620.6,388.6 L621.2,388.8 L621.7,389.1 L622.3,389.3 L622.9,389.5 L623.5,389.7 L624.0,390.0 L624.6,390.2 L625.2,390.4 L625.8,390.6 L626.3,390.8 L626.9,391.0 L627.5,391.2 L628.1,391.4 L628.7,391.5 L629.2,391.7 L629.8,391.9 L630.4,392.1 L631.0,392.2 L631.5,392.4 L632.1,392.6 L632.7,392.7 L633.3,392.9 L633.9,393.0 L634.4,393.2 L635.0,393.3 L635.6,393.5 L636.2,393.6 L636.7,393.8 L637.3,393.9 L637.9,394.0 L638.5,394.2 L639.0,394.3 L639.6,394.4 L640.2,394.5 L640.8,394.7 L641.4,394.8 L641.9,394.9 L642.5,395.0 L643.1,395.1 L643.7,395.2 L644.2,395.3 L644.8,395.4 L645.4,395.5 L646.0,395.6 L646.6,395.7 L647.1,395.8 L647.7,395.9 L648.3,396.0 L648.9,396.0 L649.4,396.1 L650.0,396.2 L650.6,396.3 L651.2,396.3 L651.7,396.4 L652.3,396.5 L652.9,396.6 L653.5,396.6 L654.1,396.7 L654.6,396.7 L655.2,396.8 L655.8,396.8 L656.4,396.9 L656.9,397.0 L657.5,397.0 L658.1,397.1 L658.7,397.1 L659.2,397.1 L659.8,397.2 L660.4,397.2 L661.0,397.3 L661.6,397.3 L662.1,397.3 L662.7,397.4 L663.3,397.4 L663.9,397.4 L664.4,397.5 L665.0,397.5 L665.6,397.5 L666.2,397.5 L666.8,397.6 L667.3,397.6 L667.9,397.6 L668.5,397.6 L669.1,397.6 L669.6,397.7 L670.2,397.7 L670.8,397.7 L671.4,397.7 L671.9,397.7 L672.5,397.7 L673.1,397.7 L673.7,397.8 L674.3,397.8 L674.8,397.8 L675.4,397.8 L676.0,397.8 L676.6,397.8 L677.1,397.8 L677.7,397.8 L678.3,397.8 L678.9,397.8 L679.5,397.8 L680.0,397.8 L680.6,397.8 L681.2,397.8 L681.8,397.8 L682.3,397.8 L682.9,397.8 L683.5,397.8 L684.1,397.8 L684.6,397.8 L685.2,397.8 L685.8,397.8 L686.4,397.8 L687.0,397.8 L687.5,397.8 L688.1,397.8 L688.7,397.8 L689.3,397.7 L689.8,397.7 L690.4,397.7 L691.0,397.7 L691.6,397.7 L692.1,397.7 L692.7,397.7 L693.3,397.7 L693.9,397.7 L694.5,397.7 L695.0,397.7 L695.6,397.7 L696.2,397.7 L696.8,397.7 L697.3,397.7 L697.9,397.7 L698.5,397.7 L699.1,397.7 L699.7,397.7 L700.2,397.7 L700.8,397.7 L701.4,397.7 L702.0,397.7 L702.5,397.7 L703.1,397.7 L703.7,397.7 L704.3,397.7 L704.8,397.7 L705.4,397.7 L706.0,397.7 L706.6,397.7 L707.2,397.7 L707.7,397.7 L708.3,397.7 L708.9,397.7 L709.5,397.7 L710.0,397.7 L710.6,397.7 L711.2,397.8 L711.8,397.8 L712.4,397.8 L712.9,397.8 L713.5,397.8 L714.1,397.8 L714.7,397.9 L715.2,397.9 L715.8,397.9 L716.4,397.9 L717.0,398.0 L717.5,398.0 L718.1,398.0 L718.7,398.1 L719.3,398.1 L719.9,398.1 L720.4,398.2 L721.0,398.2 L721.6,398.2 L722.2,398.3 L722.7,398.3 L723.3,398.4 L723.9,398.4 L724.5,398.5 L725.0,398.5" stroke="#a52a2a" stroke-width="3.0" fill="none" stroke-dasharray="7.2 10.2" stroke-dashoffset="-0.2" clip-path="url(#ci)"/>
</g>
<rect x="472.0" y="215.0" width="253.04999999999995" height="200.89999999999998" fill="none" stroke="#000" stroke-width="2.0" stroke-linejoin="round"/>
<text transform="translate(77.69,507.10) scale(0.9850,1)" font-size="34.3">0</text>
<text transform="translate(60.80,426.94) scale(0.9850,1)" font-size="34.3">10</text>
<text transform="translate(60.80,346.78) scale(0.9850,1)" font-size="34.3">20</text>
<text transform="translate(60.80,266.62) scale(0.9850,1)" font-size="34.3">30</text>
<text transform="translate(60.80,186.47) scale(0.9850,1)" font-size="34.3">40</text>
<text transform="translate(60.80,106.31) scale(0.9850,1)" font-size="34.3">50</text>
<text transform="translate(60.80,26.15) scale(0.9850,1)" font-size="34.3">60</text>
<text transform="translate(100.99,540.60) scale(0.9800,1)" font-size="34.3">10</text>
<text transform="translate(223.29,540.60) scale(0.9800,1)" font-size="34.3">11</text>
<text transform="translate(345.59,540.60) scale(0.9800,1)" font-size="34.3">12</text>
<text transform="translate(467.89,540.60) scale(0.9800,1)" font-size="34.3">13</text>
<text transform="translate(590.19,540.60) scale(0.9800,1)" font-size="34.3">14</text>
<text transform="translate(712.49,540.60) scale(0.9800,1)" font-size="34.3">15</text>
<text transform="translate(437.76,425.80) scale(0.9850,1)" font-size="30.2">0</text>
<text transform="translate(438.26,345.44) scale(0.9850,1)" font-size="30.2">2</text>
<text transform="translate(437.10,265.08) scale(0.9850,1)" font-size="30.2">4</text>
<text transform="translate(513.78,458.80) scale(0.9700,1)" font-size="30.2">12</text>
<text transform="translate(601.04,458.80) scale(0.9700,1)" font-size="30.2">13</text>
<text transform="translate(688.29,458.80) scale(0.9700,1)" font-size="30.2">14</text>
<text transform="translate(366.06,583.60) scale(0.9706,1)" font-size="40.6">R [fm]</text>
<text transform="translate(32.9,375.2) rotate(-90)" font-size="40.6" letter-spacing="-0.85">E<tspan font-size="32.48" dy="11.7">diss</tspan><tspan dy="-11.7">(R) [MeV]</tspan></text>
<text transform="translate(162.12,68.70) scale(0.9595,1)" font-size="32.0">96</text>
<text transform="translate(192.05,88.20) scale(1.0175,1)" font-size="40.0">Zr</text>
<text transform="translate(238.26,88.90) scale(1.0699,1)" font-size="40.0">+</text>
<text transform="translate(261.72,68.80) scale(0.9514,1)" font-size="32.0">124</text>
<text transform="translate(306.96,88.20) scale(0.9856,1)" font-size="40.0">Sn</text>
<path d="M399.8,58.5 H458.6" stroke="#ff0000" stroke-width="3.0" fill="none"/>
<text transform="translate(477.93,66.50) scale(1.0000,1)" font-size="33.5">E</text>
<text transform="translate(497.87,75.80) scale(1.0078,1)" font-size="26.8">c.m.</text>
<text transform="translate(542.42,67.80) scale(1.0972,1)" font-size="34.3">=</text>
<text transform="translate(571.06,66.50) scale(0.9938,1)" font-size="34.3">300</text>
<text transform="translate(629.36,66.50) scale(0.9703,1)" font-size="33.5">MeV</text>
<path d="M399.8,98.5 H458.6" stroke="#006400" stroke-width="3.0" fill="none" stroke-dasharray="21 7 3.5 7"/>
<text transform="translate(477.93,106.50) scale(1.0000,1)" font-size="33.5">E</text>
<text transform="translate(497.87,115.80) scale(1.0078,1)" font-size="26.8">c.m.</text>
<text transform="translate(542.42,107.80) scale(1.0972,1)" font-size="34.3">=</text>
<text transform="translate(571.20,106.50) scale(0.9910,1)" font-size="34.3">250</text>
<text transform="translate(629.36,106.50) scale(0.9703,1)" font-size="33.5">MeV</text>
<path d="M399.8,138.5 H458.6" stroke="#0000ff" stroke-width="3.0" fill="none" stroke-dasharray="14 6.8"/>
<text transform="translate(477.93,146.50) scale(1.0000,1)" font-size="33.5">E</text>
<text transform="translate(497.87,155.80) scale(1.0078,1)" font-size="26.8">c.m.</text>
<text transform="translate(542.42,147.80) scale(1.0972,1)" font-size="34.3">=</text>
<text transform="translate(571.20,146.50) scale(0.9910,1)" font-size="34.3">228</text>
<text transform="translate(629.36,146.50) scale(0.9703,1)" font-size="33.5">MeV</text>
<path d="M399.8,178.5 H458.6" stroke="#a52a2a" stroke-width="3.0" fill="none" stroke-dasharray="7.2 10.2"/>
<text transform="translate(477.93,186.50) scale(1.0000,1)" font-size="33.5">E</text>
<text transform="translate(497.87,195.80) scale(1.0078,1)" font-size="26.8">c.m.</text>
<text transform="translate(542.42,187.80) scale(1.0972,1)" font-size="34.3">=</text>
<text transform="translate(571.20,186.50) scale(0.9910,1)" font-size="34.3">220</text>
<text transform="translate(629.36,186.50) scale(0.9703,1)" font-size="33.5">MeV</text>
</svg>
</body></html>
